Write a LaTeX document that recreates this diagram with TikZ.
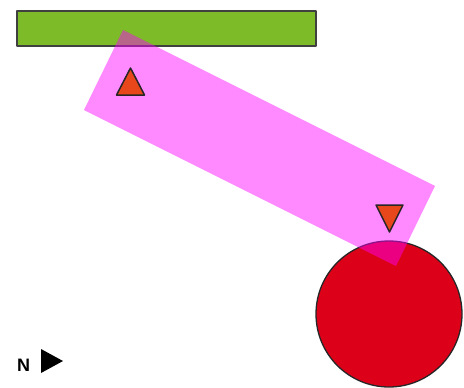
\documentclass[tikz,border=0pt]{standalone}
\usepackage{fontspec}
\setmainfont{Liberation Sans}
\definecolor{bargreen}{HTML}{7DBB28}
\definecolor{discred}{HTML}{DD0019}
\definecolor{triorange}{HTML}{E8471B}
\definecolor{bandmag}{RGB}{255,0,255}
\begin{document}
\begin{tikzpicture}[x=1pt,y=-1pt,
  outline/.style={draw=black!85,line width=1.1pt,line join=round},
  marker/.style={outline,fill=triorange,line width=1.5pt}]
\useasboundingbox (0,0) rectangle (464,388);
% green bar
\draw[outline,fill=bargreen,draw=black!75] (17,11) rectangle (316,46);
% red disc
\draw[outline,fill=discred,line width=1.3pt] (389,314) circle[radius=73];
% magenta rotated band
\fill[bandmag,opacity=0.46] (123,30) -- (435,186) -- (396,266) -- (84,110) -- cycle;
% markers
\draw[marker] (130.5,68) -- (144.5,95) -- (116.5,95) -- cycle;
\draw[marker] (376,205) -- (403,205) -- (389.5,232) -- cycle;
% north arrow
\node[font=\bfseries\fontsize{18}{18}\selectfont,inner sep=0pt,anchor=base west] (nlabel) at (17,371.5) {N};
\fill[black] (41,349) -- (63,361) -- (41,373) -- cycle;
\end{tikzpicture}
\end{document}
